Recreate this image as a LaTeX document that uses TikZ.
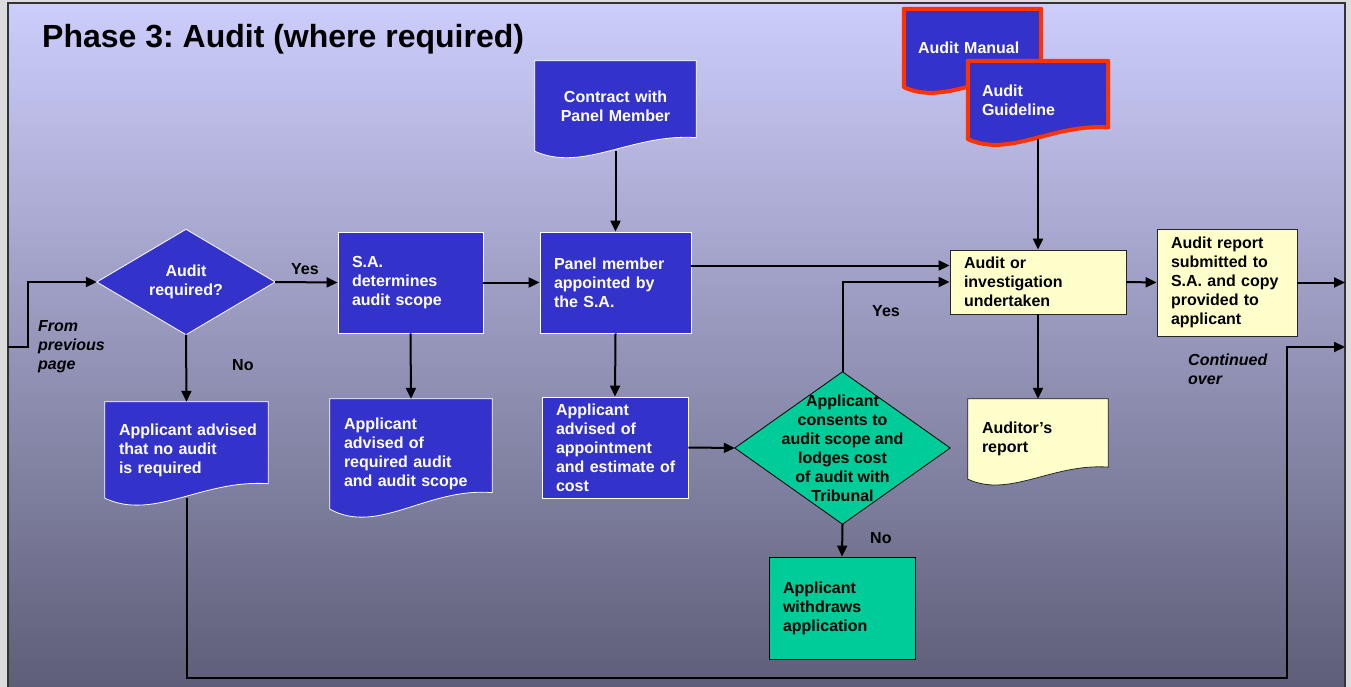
\documentclass[tikz,border=0pt]{standalone}
\usepackage{fontspec}
\setmainfont{Liberation Sans}
\frenchspacing
\usetikzlibrary{arrows.meta,calc}
\pgfdeclarelayer{bg}
\pgfdeclarelayer{shapes}
\pgfsetlayers{bg,shapes,main}
\definecolor{blueF}{RGB}{51,51,204}
\definecolor{greenF}{RGB}{0,204,153}
\definecolor{yellowF}{RGB}{255,255,204}
\definecolor{redB}{RGB}{255,51,0}
\definecolor{frameG}{RGB}{220,220,220}
\definecolor{bgTop}{RGB}{205,205,252}
\definecolor{bgMid}{RGB}{156,156,198}
\definecolor{bgBot}{RGB}{94,94,120}
\newcommand\docoutline[2]{%
  \begin{pgfonlayer}{shapes}
  \path[#2] let \p1=(#1.south west), \p2=(#1.north east), \n1={\y2-\y1}, \n2={\x2-\x1} in
    (\x1,\y2) -- (\x2,\y2) -- (\x2,{\y1+0.15*\n1})
    .. controls ({\x1+0.6*\n2},{\y1+0.2*\n1}) and ({\x1+0.3*\n2},{\y1-0.24*\n1}) .. (\x1,\y1) -- cycle;
  \end{pgfonlayer}}
\newcommand\diamondoutline[2]{%
  \begin{pgfonlayer}{shapes}
  \path[#2] (#1.west) -- (#1.north) -- (#1.east) -- (#1.south) -- cycle;
  \end{pgfonlayer}}
\tikzset{
  txt/.style={font=\fontsize{16}{19}\selectfont\bfseries},
  sz/.code 2 args={\pgfmathsetlengthmacro\mytw{#1-28}\tikzset{minimum width=#1pt,minimum height=#2pt,text width=\mytw}},
  box/.style={txt, rectangle, draw=white, line width=0.8pt, fill=blueF, text=white, inner xsep=14pt, inner ysep=0pt, align=left},
  ybox/.style={box, draw=black!85, fill=yellowF, text=black},
  gbox/.style={box, draw=black, fill=greenF, text=black},
  doc/.style={txt, rectangle, draw=none, text=white, inner xsep=14pt, inner ysep=0pt, align=left},
  ydoc/.style={doc, text=black},
  decision/.style={txt, rectangle, draw=none, inner sep=0pt, align=center},
  docblue/.style={fill=blueF, draw=white, line width=0.8pt},
  docred/.style={fill=blueF, draw=redB, line width=4pt, line join=round},
  docyellow/.style={fill=yellowF, draw=black!85, line width=0.8pt},
  decblue/.style={fill=blueF, draw=white, line width=0.8pt},
  decgreen/.style={fill=greenF, draw=black, line width=0.8pt},
  arr/.style={-{Triangle[length=11pt,width=10pt]}, line width=2pt, black},
  lab/.style={txt, inner sep=0pt, anchor=base west},
  note/.style={font=\fontsize{16}{19}\selectfont\bfseries\itshape, inner sep=0pt, align=left, anchor=north west},
}
\begin{document}
\begin{tikzpicture}[x=1pt,y=-1pt]
\useasboundingbox (0,0) rectangle (1351,687);
\begin{pgfonlayer}{bg}
  \fill[frameG] (0,0) rectangle (1351,687);
  \shade[top color=bgTop, middle color=bgMid, bottom color=bgBot] (8,3) rectangle (1345,687);
  \draw[line width=1.5pt, black!80] (8,687) -- (8,3) -- (1345,3) -- (1345,687);
\end{pgfonlayer}

\node[font=\fontsize{32}{38}\selectfont\bfseries, inner sep=0pt, anchor=base west] (title) at (42,48) {Phase 3: Audit (where required)};

% nodes
\node[decision, minimum width=178pt, minimum height=105pt, text=white] (dq) at (186,282) {Audit\\required?};
\node[box, sz={145}{101}] (sa) at (410.5,282.5) {S.A.\\determines\\audit scope};
\node[box, sz={151}{101}] (pm) at (615.5,282.5) {Panel member\\appointed by\\the S.A.};
\node[doc, sz={161}{90}, align=center] (contract) at (615.5,106) {Contract with\\Panel Member};
\node[doc, sz={137}{78}] (manual) at (972.5,48) {Audit Manual};
\node[doc, sz={140}{78}] (guide) at (1038,100) {Audit\\Guideline};
\node[doc, sz={163}{96}] (nodoc) at (186.5,450) {\mbox{Applicant advised}\\that no audit\\is required};
\node[doc, sz={162}{110}] (scope) at (411,454) {Applicant\\advised of\\required audit\\and audit scope};
\node[box, sz={146}{101}] (appt) at (615,447.5) {Applicant\\advised of\\appointment\\\mbox{and estimate of}\\cost};
\node[decision, minimum width=215pt, minimum height=152pt, text=black] (gd) at (842.5,448) {Applicant\\consents to\\audit scope and\\lodges cost\\of audit with\\Tribunal};
\node[gbox, sz={146}{102}] (wd) at (842,608) {Applicant\\withdraws\\application};
\node[ybox, sz={176}{64}] (au) at (1038,282) {Audit or\\investigation\\undertaken};
\node[ydoc, sz={140}{80}] (arpt) at (1038,439) {Auditor’s\\report};
\node[ybox, sz={140}{107}] (rep) at (1227,282.5) {Audit report\\submitted to\\\mbox{S.A. and copy}\\provided to\\applicant};

% outlines
\diamondoutline{dq}{decblue}
\diamondoutline{gd}{decgreen}
\docoutline{contract}{docblue}
\docoutline{manual}{docred}
\docoutline{guide}{docred}
\docoutline{nodoc}{docblue}
\docoutline{scope}{docblue}
\docoutline{arpt}{docyellow}

% labels
\node[lab] (yes1) at (291,274) {Yes};
\node[lab] (no1) at (232,370) {No};
\node[lab] (yes2) at (872,316) {Yes};
\node[lab] (no2) at (870,543) {No};
\node[note] (fromtxt) at (38,320) {From\\previous\\page};
\node[note] (conttxt) at (1188,354) {Continued\\over};

% coordinates
\coordinate (fromprev) at (8,347);
\coordinate (edgeR) at (1345,0);
\coordinate (cont) at (1345,347);
\coordinate (br) at (1287,678);

% connectors
\draw[arr] (fromprev) -- ++(20,0) |- (dq.west);
\draw[arr] (dq.east) -- (sa.west);
\draw[arr] (dq.south) -- (nodoc.north);
\draw[arr] (sa.south) -- (scope.north);
\draw[arr] (sa.east) -- (pm.west);
\draw[arr] (contract.south) -- (pm.north);
\draw[arr] (pm.south) -- (appt.north);
\draw[arr] (appt.east) -- (gd.west);
\draw[arr] (gd.north) |- (au.west);
\draw[arr] ($(pm.east)+(0,-17)$) coordinate (pmo) -- (pmo -| au.west);
\draw[arr] (gd.south) -- (wd.north);
\draw[arr] (guide.south) -- (au.north);
\draw[arr] (au.south) -- (arpt.north);
\draw[arr] (au.east) -- (rep.west);
\draw[arr] (rep.east) -- (rep.east -| edgeR);
\draw[arr] (nodoc.south) |- (br) |- (cont);
\end{tikzpicture}
\end{document}
